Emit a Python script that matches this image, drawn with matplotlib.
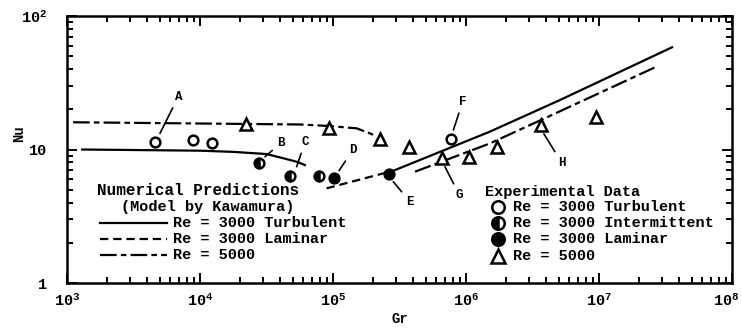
import numpy as np
import matplotlib
matplotlib.use('Agg')
import matplotlib.pyplot as plt
import matplotlib.transforms as mtransforms

plt.rcParams['font.family'] = ['Liberation Mono', 'DejaVu Sans']
plt.rcParams['font.weight'] = 'bold'
plt.rcParams['lines.scale_dashes'] = False

# Experimental data (Gr, Nu)
turb_gr = [4600, 8800, 12400, 770000]
turb_nu = [11.4, 11.8, 11.1, 12.0]

inter_gr = [28000, 47500, 79000]
inter_nu = [7.9, 6.3, 6.3]

lam_gr = [101000, 265000]
lam_nu = [6.1, 6.55]

re5000_gr = [22200, 94000, 225000, 375000, 656000, 1.06e6, 1.70e6, 3.65e6, 9.5e6]
re5000_nu = [15.5, 14.4, 11.9, 10.4, 8.7, 8.8, 10.5, 15.3, 17.6]

# Numerical predictions (Kawamura model)
pred_turb_lo_gr = [1300, 10000, 17800, 31600, 42300, 53300, 61500]
pred_turb_lo_nu = [10.0, 9.8, 9.6, 9.25, 8.6, 8.1, 7.65]
pred_turb_hi_gr = [2.84e5, 1.51e6, 5.1e6, 3.54e7]
pred_turb_hi_nu = [6.93, 13.6, 23.5, 58.3]
pred_lam_gr = [89500, 2.84e5]
pred_lam_nu = [5.12, 6.93]
pred_5000_lo_gr = [1110, 56500, 93800, 151000, 190000, 213000]
pred_5000_lo_nu = [16.0, 15.4, 15.0, 14.4, 13.2, 12.5]
pred_5000_hi_gr = [4.14e5, 1.51e6, 3.65e6, 2.64e7]
pred_5000_hi_nu = [6.82, 11.1, 16.6, 41.3]

# letter labels: (letter, label position, leader end)
letters = ['A', 'B', 'C', 'D', 'E', 'F', 'G', 'H']
letter_pos = [(6870, 24.9), (40600, 11.2), (61500, 11.4), (141000, 9.92),
              (379000, 4.06), (944000, 22.8), (891000, 4.56), (5.25e6, 7.96)]
letter_end = [(5000, 13.2), (30800, 8.83), (53300, 7.43), (111000, 6.94),
              (284000, 5.74), (804000, 14.0), (695000, 7.43), (3.85e6, 13.1)]

DASHED = (0, (6, 3.5))
DASHDOT = (0, (12, 3, 4, 3))

fig = plt.figure(figsize=(7.42, 3.31), dpi=100)
ax = fig.add_axes([0.0903, 0.1450, 0.8962, 0.8066])
ax.set_xscale('log')
ax.set_yscale('log')
ax.set_xlim(1e3, 1e8)
ax.set_ylim(1, 100)

lw = 1.6
ax.plot(pred_turb_lo_gr, pred_turb_lo_nu, color='black', lw=lw)
ax.plot(pred_turb_hi_gr, pred_turb_hi_nu, color='black', lw=lw)
ax.plot(pred_lam_gr, pred_lam_nu, color='black', lw=lw, linestyle=DASHED)
ax.plot(pred_5000_lo_gr, pred_5000_lo_nu, color='black', lw=lw, linestyle=DASHDOT)
ax.plot(pred_5000_hi_gr, pred_5000_hi_nu, color='black', lw=lw, linestyle=DASHDOT)

mk = dict(linestyle='none', markeredgecolor='black', markeredgewidth=1.8)
ax.plot(turb_gr, turb_nu, marker='o', ms=7, markerfacecolor='white', **mk)
ax.plot(inter_gr, inter_nu, marker='o', ms=7, markerfacecolor='black',
        markerfacecoloralt='white', fillstyle='left', **mk)
ax.plot(lam_gr, lam_nu, marker='o', ms=7, markerfacecolor='black', **mk)
ax.plot(re5000_gr, re5000_nu, marker='^', ms=8.5, markerfacecolor='white', **mk)

for lab, pos, end in zip(letters, letter_pos, letter_end):
    ax.annotate(lab, xy=end, xytext=pos, ha='center', va='center', fontsize=9,
                fontweight='bold',
                arrowprops=dict(arrowstyle='-', color='black', lw=1.2,
                                shrinkA=2, shrinkB=0))

# axes styling
for sp in ax.spines.values():
    sp.set_linewidth(1.8)
ax.tick_params(which='both', direction='in', top=True, right=True, width=1.4)
ax.tick_params(which='major', length=7)
ax.tick_params(which='minor', length=4)
ax.tick_params(axis='x', which='major', pad=7, labelsize=11)
ax.tick_params(axis='y', which='major', pad=14, labelsize=11)
ax.set_xticks([1e3, 1e4, 1e5, 1e6, 1e7, 1e8])
ax.set_xticklabels([r'$\mathregular{10^{%d}}$' % k for k in range(3, 9)])
ax.set_yticks([1, 10, 100])
ax.set_yticklabels(['1', '10', r'$\mathregular{10^{2}}$'])

# pull the last x label in a bit so it stays on the canvas
last = ax.get_xticklabels()[-1]
last.set_transform(last.get_transform() +
                   mtransforms.ScaledTranslation(-6 / 100, 0, fig.dpi_scale_trans))

ax.set_xlabel('Gr', fontsize=10, fontweight='bold')
ax.xaxis.set_label_coords(0.5, -0.11)
ax.set_ylabel('Nu', fontsize=10, fontweight='bold')
ax.yaxis.set_label_coords(-0.062, 0.56)

# legend for the numerical predictions
T = ax.transAxes
ax.text(0.197, 0.348, 'Numerical Predictions', transform=T, ha='center',
        va='center', fontsize=11.5)
ax.text(0.211, 0.286, '(Model by Kawamura)', transform=T, ha='center',
        va='center', fontsize=11)
pred_labels = ['Re = 3000 Turbulent', 'Re = 3000 Laminar', 'Re = 5000']
pred_styles = ['-', DASHED, DASHDOT]
rows = [0.2236, 0.1637, 0.1049]
for y, lab, ls in zip(rows, pred_labels, pred_styles):
    ax.plot([0.0496, 0.150], [y, y], transform=T, color='black', lw=lw,
            linestyle=ls, clip_on=False)
    ax.text(0.159, y, lab, transform=T, ha='left', va='center', fontsize=11)

# legend for the experimental data
ax.text(0.6286, 0.342, 'Experimental Data', transform=T, ha='left',
        va='center', fontsize=11)
exp_labels = ['Re = 3000 Turbulent', 'Re = 3000 Intermittent',
              'Re = 3000 Laminar', 'Re = 5000']
exp_rows = [0.2858, 0.2236, 0.1637, 0.1011]
exp_styles = [dict(marker='o', ms=9, markerfacecolor='white'),
              dict(marker='o', ms=9, markerfacecolor='black',
                   markerfacecoloralt='white', fillstyle='left'),
              dict(marker='o', ms=9, markerfacecolor='black'),
              dict(marker='^', ms=10.5, markerfacecolor='white')]
for y, lab, st in zip(exp_rows, exp_labels, exp_styles):
    ax.plot([0.6486], [y], transform=T, clip_on=False, **mk, **st)
    ax.text(0.671, y, lab, transform=T, ha='left', va='center', fontsize=11)

fig.savefig('out.png', dpi=100)
